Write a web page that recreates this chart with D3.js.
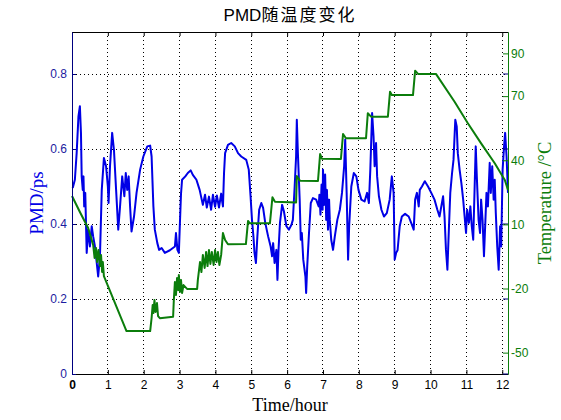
<!DOCTYPE html>
<html>
<head>
<meta charset="utf-8">
<script src="https://cdn.jsdelivr.net/npm/d3@7"></script>
<style>
    body { margin: 0; background: white; }
</style>
</head>
<body>
<svg id="chart"></svg>
<script>
// PMD readings (ps) against time (hours)
var pmdHours = [0.02, 0.08, 0.13, 0.18, 0.22, 0.25, 0.27, 0.30, 0.32, 0.34, 0.37, 0.41, 0.45, 0.50, 0.55, 0.59, 0.64, 0.69, 0.73, 0.78,
    0.83, 0.89, 0.95, 1.00, 1.02, 1.06, 1.12, 1.17, 1.23, 1.29, 1.34, 1.40, 1.46, 1.50, 1.54, 1.58, 1.62, 1.66, 1.73, 1.80,
    1.90, 1.99, 2.10, 2.18, 2.22, 2.27, 2.31, 2.38, 2.43, 2.50, 2.59, 2.73, 2.87, 2.90, 2.94, 2.98, 3.01, 3.04, 3.07, 3.16,
    3.23, 3.31, 3.37, 3.47, 3.56, 3.65, 3.71, 3.76, 3.82, 3.88, 3.93, 3.99, 4.04, 4.10, 4.16, 4.18, 4.21, 4.24, 4.27, 4.35,
    4.44, 4.54, 4.63, 4.72, 4.86, 4.93, 4.98, 5.02, 5.06, 5.09, 5.13, 5.17, 5.22, 5.28, 5.33, 5.39, 5.47, 5.54, 5.58, 5.61,
    5.65, 5.70, 5.73, 5.76, 5.80, 5.86, 5.91, 5.98, 6.05, 6.12, 6.16, 6.21, 6.25, 6.27, 6.30, 6.35, 6.38, 6.41, 6.45, 6.51,
    6.53, 6.56, 6.61, 6.66, 6.72, 6.81, 6.88, 6.90, 6.93, 6.96, 6.99, 7.00, 7.03, 7.06, 7.09, 7.11, 7.14, 7.17, 7.19, 7.23,
    7.28, 7.33, 7.40, 7.47, 7.53, 7.59, 7.62, 7.66, 7.70, 7.73, 7.79, 7.86, 7.93, 7.99, 8.07, 8.16, 8.23, 8.28, 8.32, 8.37,
    8.41, 8.44, 8.48, 8.51, 8.56, 8.63, 8.70, 8.78, 8.86, 8.92, 8.97, 9.00, 9.04, 9.08, 9.14, 9.20, 9.29, 9.39, 9.46, 9.53,
    9.57, 9.62, 9.67, 9.70, 9.76, 9.84, 9.93, 10.02, 10.11, 10.19, 10.25, 10.30, 10.35, 10.39, 10.43, 10.47, 10.50, 10.55, 10.60, 10.64,
    10.69, 10.73, 10.76, 10.81, 10.86, 10.91, 10.95, 10.99, 11.02, 11.07, 11.11, 11.15, 11.19, 11.23, 11.26, 11.29, 11.34, 11.38, 11.41, 11.45,
    11.49, 11.53, 11.56, 11.60, 11.65, 11.68, 11.72, 11.76, 11.79, 11.82, 11.86, 11.90, 11.94, 11.97, 12.01, 12.05, 12.08, 12.12, 12.16]
var pmdValues = [0.496, 0.518, 0.589, 0.687, 0.714, 0.643, 0.527, 0.491, 0.527, 0.447, 0.483, 0.323, 0.385, 0.340, 0.394, 0.367, 0.340, 0.296, 0.260, 0.314,
    0.491, 0.576, 0.554, 0.500, 0.456, 0.554, 0.643, 0.598, 0.491, 0.385, 0.447, 0.527, 0.474, 0.536, 0.491, 0.527, 0.447, 0.380, 0.420, 0.483,
    0.545, 0.580, 0.607, 0.609, 0.580, 0.447, 0.385, 0.349, 0.331, 0.336, 0.323, 0.330, 0.340, 0.376, 0.331, 0.323, 0.403, 0.480, 0.518, 0.527,
    0.536, 0.543, 0.531, 0.518, 0.491, 0.451, 0.478, 0.444, 0.473, 0.438, 0.478, 0.446, 0.476, 0.444, 0.481, 0.465, 0.447, 0.536, 0.589, 0.611,
    0.616, 0.607, 0.589, 0.580, 0.571, 0.545, 0.474, 0.411, 0.367, 0.323, 0.296, 0.367, 0.438, 0.456, 0.443, 0.403, 0.367, 0.340, 0.314, 0.349,
    0.296, 0.331, 0.251, 0.331, 0.403, 0.451, 0.434, 0.394, 0.385, 0.398, 0.411, 0.500, 0.580, 0.678, 0.589, 0.465, 0.358, 0.376, 0.305, 0.260,
    0.216, 0.287, 0.376, 0.456, 0.469, 0.465, 0.447, 0.478, 0.425, 0.505, 0.438, 0.545, 0.451, 0.532, 0.411, 0.491, 0.385, 0.465, 0.411, 0.358,
    0.331, 0.367, 0.411, 0.438, 0.483, 0.554, 0.625, 0.483, 0.305, 0.394, 0.500, 0.536, 0.527, 0.491, 0.465, 0.460, 0.483, 0.456, 0.545, 0.696,
    0.634, 0.554, 0.616, 0.527, 0.474, 0.438, 0.420, 0.429, 0.465, 0.527, 0.483, 0.305, 0.323, 0.330, 0.394, 0.420, 0.427, 0.420, 0.403, 0.385,
    0.465, 0.483, 0.447, 0.491, 0.500, 0.514, 0.500, 0.483, 0.465, 0.438, 0.420, 0.447, 0.474, 0.420, 0.331, 0.278, 0.358, 0.483, 0.536, 0.571,
    0.678, 0.660, 0.589, 0.545, 0.509, 0.465, 0.420, 0.376, 0.438, 0.403, 0.447, 0.394, 0.358, 0.500, 0.607, 0.527, 0.411, 0.376, 0.465, 0.411,
    0.314, 0.411, 0.483, 0.447, 0.563, 0.483, 0.554, 0.465, 0.518, 0.429, 0.340, 0.278, 0.394, 0.340, 0.545, 0.607, 0.643, 0.580, 0.483]

// Temperature readings (°C) against time (hours)
var tempHours = [0.00, 0.22, 0.45, 0.59, 0.63, 0.67, 0.70, 0.74, 0.78, 0.81, 0.84, 0.86, 0.89, 1.52, 2.18, 2.22, 2.25, 2.27, 2.30, 2.33,
    2.37, 2.40, 2.45, 2.82, 2.84, 2.87, 2.90, 2.93, 2.96, 2.98, 3.01, 3.04, 3.07, 3.11, 3.21, 3.49, 3.51, 3.57, 3.61, 3.65,
    3.70, 3.74, 3.78, 3.82, 3.86, 3.90, 3.95, 3.99, 4.03, 4.07, 4.11, 4.16, 4.21, 4.27, 4.35, 4.85, 4.91, 4.96, 5.52, 5.59,
    5.66, 6.25, 6.27, 6.36, 6.86, 6.92, 6.97, 7.50, 7.56, 7.64, 8.20, 8.25, 8.34, 8.81, 8.87, 8.92, 9.51, 9.57, 9.65, 10.15,
    10.67, 11.04, 11.41, 11.79, 12.07, 12.16]
var tempValues = [23.3, 15.8, 8.3, 0.4, -5.7, -1.0, -7.6, -2.0, -9.5, -4.3, -12.3, -7.6, -14.2, -39.9, -39.9, -33.8, -27.7, -31.5, -25.4, -31.0,
    -26.8, -32.9, -33.9, -33.2, -25.4, -17.0, -23.0, -15.1, -20.7, -13.7, -21.6, -16.0, -22.1, -18.4, -20.2, -20.2, -16.0, -7.6, -12.3, -4.3,
    -10.4, -2.9, -9.5, -2.0, -8.5, -2.9, -9.0, -2.0, -7.6, -2.9, -9.0, -4.3, 6.0, 2.7, 0.7, 0.8, 11.6, 10.5, 10.5, 22.7,
    20.6, 20.2, 32.6, 30.4, 30.3, 42.9, 40.7, 40.6, 52.3, 50.3, 50.3, 62.0, 60.4, 60.4, 72.1, 70.5, 70.5, 81.9, 80.4, 80.4,
    67.4, 57.3, 47.9, 38.6, 30.8, 26.1]

var hourTicks = [0, 1, 2, 3, 4, 5, 6, 7, 8, 9, 10, 11, 12]
var pmdTicks = [0, 0.2, 0.4, 0.6, 0.8]
var tempTicks = [-50, -20, 10, 40, 70, 90]

var dimensions = {
    width: 561,
    height: 420,
    margin: {
        top: 32,
        bottom: 46,
        left: 72,
        right: 53
    }
}
var plotRight = dimensions.width - dimensions.margin.right
var plotBottom = dimensions.height - dimensions.margin.bottom

var pmdColor = "#0000e6"
var pmdAxisColor = "#1c1ca0"
var tempColor = "#0b7d0b"

var svg = d3.select("#chart")
    .attr("width", dimensions.width)
    .attr("height", dimensions.height)
    .style("background", "white")

var xScale = d3.scaleLinear()
    .domain([0, 12.16])
    .range([dimensions.margin.left, plotRight])
var pmdScale = d3.scaleLinear()
    .domain([0, 0.912])
    .range([plotBottom, dimensions.margin.top])
var tempScale = d3.scaleLinear()
    .domain([-60, 100])
    .range([plotBottom, dimensions.margin.top])

// Dotted grid
svg.append("g")
    .selectAll("line")
    .data(hourTicks.filter(d => d > 0))
    .enter()
    .append("line")
    .attr("x1", d => xScale(d))
    .attr("x2", d => xScale(d))
    .attr("y1", dimensions.margin.top)
    .attr("y2", plotBottom)
svg.append("g")
    .selectAll("line")
    .data(pmdTicks.filter(d => d > 0))
    .enter()
    .append("line")
    .attr("x1", dimensions.margin.left)
    .attr("x2", plotRight)
    .attr("y1", d => pmdScale(d))
    .attr("y2", d => pmdScale(d))
svg.selectAll("g line")
    .attr("stroke", "black")
    .attr("stroke-width", 1)
    .attr("stroke-dasharray", "1,3")
    .attr("shape-rendering", "crispEdges")

// Lines
var pmdLine = d3.line()
    .x((d, i) => xScale(pmdHours[i]))
    .y(d => pmdScale(d))
svg.append("path")
    .datum(pmdValues)
    .attr("d", pmdLine)
    .attr("fill", "none")
    .attr("stroke", pmdColor)
    .attr("stroke-width", 2)
    .attr("stroke-linejoin", "round")

var tempLine = d3.line()
    .x((d, i) => xScale(tempHours[i]))
    .y(d => tempScale(d))
svg.append("path")
    .datum(tempValues)
    .attr("d", tempLine)
    .attr("fill", "none")
    .attr("stroke", tempColor)
    .attr("stroke-width", 2)
    .attr("stroke-linejoin", "round")

// Axes
var xAxis = svg.append("g")
    .attr("transform", `translate(0,${plotBottom})`)
    .call(d3.axisBottom(xScale).tickValues(hourTicks).tickSize(-4).tickSizeOuter(0).tickPadding(6))
xAxis.select(".domain").attr("stroke", "black")
xAxis.selectAll(".tick line").attr("stroke", "black")
xAxis.selectAll("text")
    .attr("fill", "black")
    .style("font-family", "Arial, 'Liberation Sans', sans-serif")
    .style("font-size", "12px")
    .style("font-weight", d => d == 0 ? "bold" : "normal")

var topAxis = svg.append("g")
    .attr("transform", `translate(0,${dimensions.margin.top})`)
    .call(d3.axisTop(xScale).tickValues(hourTicks).tickSize(-4).tickSizeOuter(0).tickFormat(""))
topAxis.select(".domain").attr("stroke", "black")
topAxis.selectAll(".tick line").attr("stroke", "black")

var pmdAxis = svg.append("g")
    .attr("transform", `translate(${dimensions.margin.left},0)`)
    .call(d3.axisLeft(pmdScale).tickValues(pmdTicks).tickSize(-4).tickSizeOuter(0).tickPadding(5).tickFormat(d => String(d)))
pmdAxis.select(".domain").attr("stroke", "#000080")
pmdAxis.selectAll(".tick line").attr("stroke", "#000080")
pmdAxis.selectAll("text")
    .attr("fill", pmdAxisColor)
    .style("font-family", "Arial, 'Liberation Sans', sans-serif")
    .style("font-size", "12px")

// PMD ticks mirrored on the right edge
svg.append("g")
    .selectAll("line")
    .data(pmdTicks)
    .enter()
    .append("line")
    .attr("x1", plotRight - 5)
    .attr("x2", plotRight)
    .attr("y1", d => pmdScale(d))
    .attr("y2", d => pmdScale(d))
    .attr("stroke", "#000080")

var tempAxis = svg.append("g")
    .attr("transform", `translate(${plotRight},0)`)
    .call(d3.axisRight(tempScale).tickValues(tempTicks).tickSize(-5).tickSizeOuter(0).tickPadding(3).tickFormat(d => String(d)))
tempAxis.select(".domain").attr("stroke", tempColor)
tempAxis.selectAll(".tick line").attr("stroke", tempColor)
tempAxis.selectAll("text")
    .attr("fill", tempColor)
    .style("font-family", "Arial, 'Liberation Sans', sans-serif")
    .style("font-size", "12px")

// Title and axis labels
var title = svg.append("text")
    .attr("x", (dimensions.margin.left + plotRight) / 2)
    .attr("y", 21)
    .style("text-anchor", "middle")
    .style("font-size", "17px")
    .style("fill", "black")
title.append("tspan")
    .text("PMD")
    .style("font-family", "Arial, 'Liberation Sans', sans-serif")
title.append("tspan")
    .text("随温度变化")
    .style("font-family", "'Noto Sans CJK SC', sans-serif")
    .style("letter-spacing", "2px")

svg.append("text")
    .attr("x", (dimensions.margin.left + plotRight) / 2)
    .attr("y", 411)
    .text("Time/hour")
    .style("text-anchor", "middle")
    .style("font-family", "'Liberation Serif', 'Times New Roman', serif")
    .style("font-size", "18px")
    .style("fill", "black")

svg.append("text")
    .attr("transform", "translate(43,203) rotate(-90)")
    .text("PMD/ps")
    .style("text-anchor", "middle")
    .style("font-family", "'Liberation Serif', 'Times New Roman', serif")
    .style("font-size", "19px")
    .style("fill", pmdColor)

svg.append("text")
    .attr("transform", "translate(551,203) rotate(-90)")
    .text("Temperature /°C")
    .style("text-anchor", "middle")
    .style("font-family", "'Liberation Serif', 'Times New Roman', serif")
    .style("font-size", "18.5px")
    .style("fill", tempColor)
</script>
</body>
</html>
